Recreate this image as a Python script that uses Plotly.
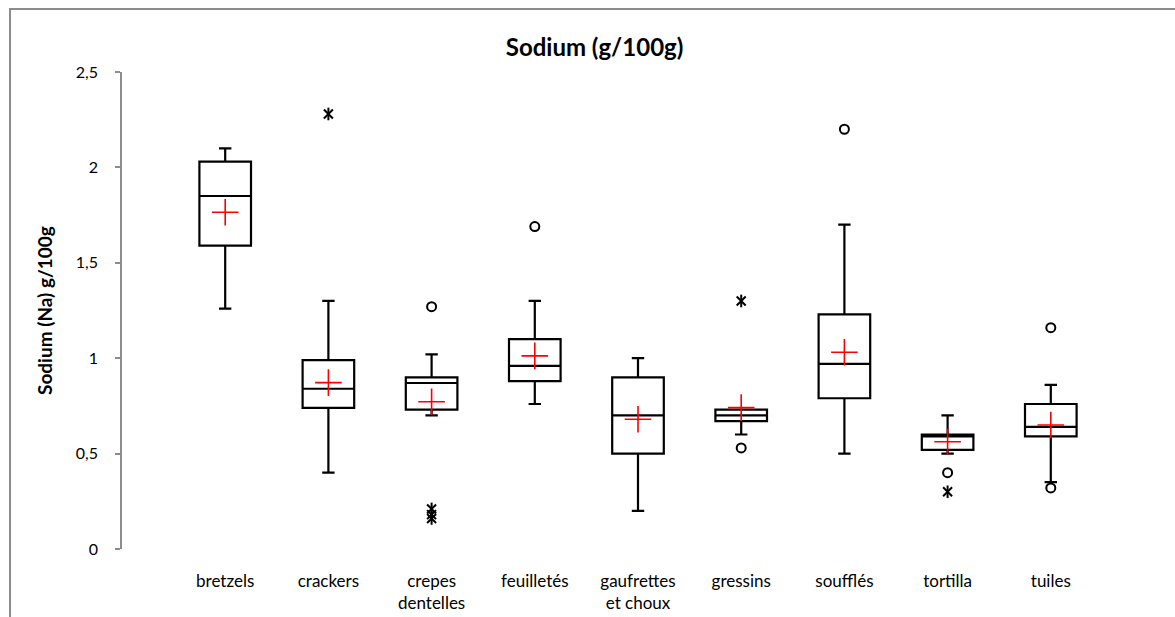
import plotly.graph_objects as go

categories = ["bretzels", "crackers", "crepes dentelles", "feuilletés", "gaufrettes et choux",
              "gressins", "soufflés", "tortilla", "tuiles"]
tick_labels = ["bretzels", "crackers", "crepes<br>dentelles", "feuilletés", "gaufrettes<br>et choux",
               "gressins", "soufflés", "tortilla", "tuiles"]

lower_whisker = [1.26, 0.40, 0.70, 0.76, 0.20, 0.60, 0.50, 0.50, 0.35]
q1 = [1.59, 0.74, 0.73, 0.88, 0.50, 0.67, 0.79, 0.52, 0.59]
median = [1.85, 0.84, 0.87, 0.96, 0.70, 0.70, 0.97, 0.59, 0.64]
q3 = [2.03, 0.99, 0.90, 1.10, 0.90, 0.73, 1.23, 0.60, 0.76]
upper_whisker = [2.10, 1.30, 1.02, 1.30, 1.00, 0.73, 1.70, 0.70, 0.86]
means = [1.765, 0.872, 0.772, 1.012, 0.680, 0.741, 1.031, 0.562, 0.650]

# moderate outliers (circles)
out_cat = ["crepes dentelles", "feuilletés", "gressins", "soufflés", "tortilla", "tuiles", "tuiles"]
out_val = [1.27, 1.69, 0.53, 2.20, 0.40, 1.16, 0.32]
# extreme outliers (asterisks)
ext_cat = ["crackers", "crepes dentelles", "crepes dentelles", "crepes dentelles", "gressins", "tortilla"]
ext_val = [2.28, 0.21, 0.18, 0.16, 1.30, 0.30]

FONT = "Lato"

fig = go.Figure()

fig.add_trace(go.Box(
    x=categories, q1=q1, median=median, q3=q3,
    lowerfence=lower_whisker, upperfence=upper_whisker,
    width=0.5, whiskerwidth=0.24, boxpoints=False,
    line=dict(color="black", width=2.2), fillcolor="rgba(255,255,255,0)",
    showlegend=False, hoverinfo="skip",
))

fig.add_trace(go.Scatter(
    x=categories, y=means, mode="markers",
    marker=dict(symbol="cross-thin", size=19, line=dict(color="#ff0000", width=1.6)),
    showlegend=False, hoverinfo="skip",
))

fig.add_trace(go.Scatter(
    x=out_cat, y=out_val, mode="markers",
    marker=dict(symbol="circle-open", size=9, color="black", line=dict(color="black", width=2)),
    showlegend=False, hoverinfo="skip",
))

for sym in ["x-thin-open", "line-ns-open"]:
    fig.add_trace(go.Scatter(
        x=ext_cat, y=ext_val, mode="markers",
        marker=dict(symbol=sym, size=9, color="black", line=dict(color="black", width=2)),
        showlegend=False, hoverinfo="skip",
    ))

# outer chart border
fig.add_shape(type="rect", xref="paper", yref="paper",
              x0=-0.1085, x1=1.2, y0=-0.3, y1=1.132,
              line=dict(color="#8c8c8c", width=2), fillcolor="rgba(0,0,0,0)", layer="above")

fig.add_annotation(
    text="<b>Sodium (Na) g/100g</b>", textangle=-90, xref="paper", yref="paper",
    x=-0.0746, y=0.499, showarrow=False, xanchor="center", yanchor="middle",
    font=dict(family=FONT, size=19, color="black"),
)

fig.update_layout(
    width=1175, height=617,
    margin=dict(l=122, r=20.5, t=72, b=68, autoexpand=False),
    paper_bgcolor="white", plot_bgcolor="white",
    separators=", ",
    font=dict(family=FONT, size=16, color="black"),
    title=dict(text="<b>Sodium (g/100g)</b>", x=0.506, xref="container", xanchor="center",
               y=1 - 48 / 617, yref="container", yanchor="middle",
               font=dict(family=FONT, size=24, color="black")),
    xaxis=dict(
        type="category", categoryorder="array", categoryarray=categories,
        range=[-1, 9], tickmode="array", tickvals=categories, ticktext=tick_labels,
        showline=False, showgrid=False, zeroline=False, ticks="", ticklabelstandoff=20,
        automargin=False,
        tickfont=dict(family=FONT, size=17, color="black"),
    ),
    yaxis=dict(
        range=[0, 2.5], tickvals=[0, 0.5, 1, 1.5, 2, 2.5],
        showline=True, linecolor="#8c8c8c", linewidth=1.5,
        ticks="outside", ticklen=5, tickcolor="#8c8c8c", tickwidth=1.5,
        showgrid=False, zeroline=False, ticklabelstandoff=14, automargin=False,
        tickfont=dict(family=FONT, size=16, color="black"),
    ),
)

fig.write_html("out.html")
